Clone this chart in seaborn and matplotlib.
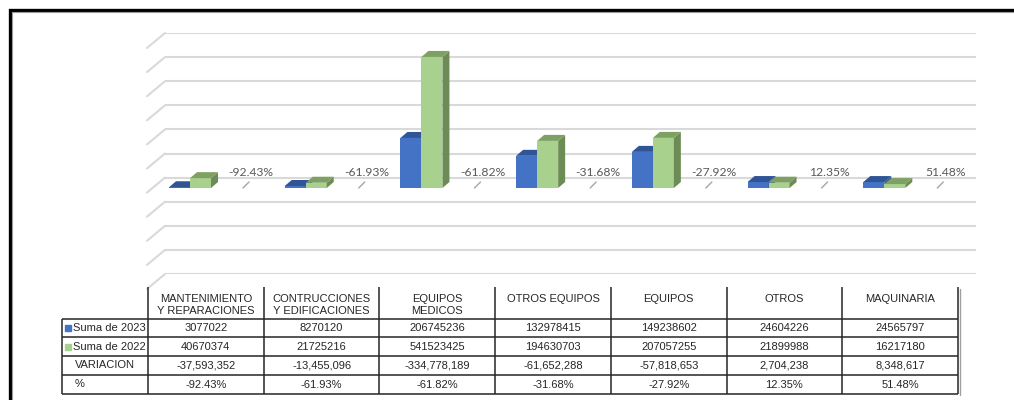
import matplotlib
matplotlib.use("Agg")
import numpy as np
import pandas as pd
import matplotlib.pyplot as plt
from matplotlib.patches import Polygon, Rectangle
import seaborn as sns

# Values
categorias = ["MANTENIMIENTO\nY REPARACIONES", "CONTRUCCIONES\nY EDIFICACIONES", "EQUIPOS\nMEDICOS",
              "OTROS EQUIPOS", "EQUIPOS", "OTROS", "MAQUINARIA"]
suma_2023 = [3077022, 8270120, 206745236, 132978415, 149238602, 24604226, 24565797]
suma_2022 = [40670374, 21725216, 541523425, 194630703, 207057255, 21899988, 16217180]
variacion = [-37593352, -13455096, -334778189, -61652288, -57818653, 2704238, 8348617]
porcentaje = [-92.43, -61.93, -61.82, -31.68, -27.92, 12.35, 51.48]
series = ["Suma de 2023", "Suma de 2022"]

# Colours (front, top, side)
BLUE = ("#4472C4", "#2F5597", "#2F5597")
GREEN = ("#A9D18E", "#7FA063", "#6D8B55")
GRID = "#D9D9D9"

W, H = 1014, 400
sns.set_theme(style="white")
plt.rcParams["font.family"] = ["Liberation Sans", "DejaVu Sans"]

fig = plt.figure(figsize=(W / 100, H / 100), dpi=100)


def px_axes(x0, y0, x1, y1, z):
    """Axes placed with pixel coordinates (top-left origin)."""
    ax = fig.add_axes([x0 / W, 1 - y1 / H, (x1 - x0) / W, (y1 - y0) / H], zorder=z)
    ax.axis("off")
    return ax


# Back wall with gridlines
wall = px_axes(165, 33, 976, 274, 0)
wall.set_ylim(-400e6, 600e6)
wall.set_xlim(0, 1)
grid_values = np.arange(-400e6, 600e6 + 1, 100e6)
for v in grid_values:
    wall.axhline(v, color=GRID, lw=1.5)

# Bars (front faces) through seaborn
ax = px_axes(148, 42.8, 958, 284.8, 1)
df = pd.DataFrame({
    "categoria": list(range(len(categorias))) * 2,
    "serie": [series[0]] * len(categorias) + [series[1]] * len(categorias),
    "valor": suma_2023 + suma_2022,
})
sns.barplot(data=df, x="categoria", y="valor", hue="serie", hue_order=series,
            palette=[BLUE[0], GREEN[0]], saturation=1, width=0.363, dodge=True,
            errorbar=None, legend=False, linewidth=0, ax=ax)
shift = 0.137
ax.set_xlim(-0.5 + shift, len(categorias) - 0.5 + shift)
ax.set_ylim(-400e6, 600e6)
ax.axis("off")

# pixel -> data unit sizes in the bar axes
p0 = ax.transData.transform((0, 0))
p1 = ax.transData.transform((1, 1e8))
px_x = p1[0] - p0[0]
px_y = (p1[1] - p0[1]) / 1e8
dx, dy = 7 / px_x, 6 / px_y

for level, (cont, cols) in enumerate(zip(ax.containers, [BLUE, GREEN])):
    for bar in cont:
        x0, w, h = bar.get_x(), bar.get_width(), bar.get_height()
        x1 = x0 + w
        z = 2 + level
        bar.set_zorder(z)
        top = Polygon([(x0, h), (x1, h), (x1 + dx, h + dy), (x0 + dx, h + dy)],
                      closed=True, facecolor=cols[1], edgecolor="none", zorder=z + 0.1)
        side = Polygon([(x1, 0), (x1 + dx, dy), (x1 + dx, h + dy), (x1, h)],
                       closed=True, facecolor=cols[2], edgecolor="none", zorder=z + 0.1)
        ax.add_patch(side)
        ax.add_patch(top)

# % series: flat marks and labels
for i, p in enumerate(porcentaje):
    xs = i + 53 / px_x
    ax.plot([xs, xs + 6 / px_x], [0, 6 / px_y], color="#A6A6A6", lw=1.0, zorder=5)
    ax.annotate(f"{p:.2f}%", xy=(i, 0), xytext=(61, 16), textcoords="offset pixels",
                ha="center", va="center", fontsize=8.7, color="#595959",
                family=["Lato", "DejaVu Sans"], zorder=6)

# Overlay in pixel space: depth lines, data table, frame
ov = fig.add_axes([0, 0, 1, 1], zorder=3)
ov.set_xlim(0, W)
ov.set_ylim(H, 0)
ov.axis("off")
ov.patch.set_alpha(0)

for v in grid_values:
    yd = wall.transData.transform((0, v))
    y = ov.transData.inverted().transform(yd)[1]
    ov.plot([147, 165], [y + 15, y], color=GRID, lw=1.5)

col_x = np.linspace(148, 958, len(categorias) + 1)
row_y = [319, 337, 356, 375, 394]
line_kw = dict(color="#262626", lw=1.1, solid_capstyle="butt")
for x in col_x:
    ov.plot([x, x], [287, row_y[-1]], **line_kw)
ov.plot([62, 62], [row_y[0], row_y[-1]], **line_kw)
for y in row_y:
    ov.plot([62, col_x[-1]], [y, y], **line_kw)
ov.plot([col_x[-1] + 1.5, col_x[-1] + 1.5], [289, row_y[-1] + 1], color="#A0A0A0", lw=1.0)

txt_kw = dict(fontsize=8, color="#262626")
for k, name in enumerate(categorias):
    ov.text((col_x[k] + col_x[k + 1]) / 2, 294.5, name, ha="center", va="top",
            linespacing=1.22, **txt_kw)

row_names = series + ["VARIACION", "%"]
row_values = [
    [str(v) for v in suma_2023],
    [str(v) for v in suma_2022],
    [f"{v:,}" for v in variacion],
    [f"{v:.2f}%" for v in porcentaje],
]
for r, (name, vals) in enumerate(zip(row_names, row_values)):
    yc = (row_y[r] + row_y[r + 1]) / 2
    if r < 2:
        ov.add_patch(Rectangle((65, yc - 3), 6, 6, color=[BLUE[0], GREEN[0]][r]))
        ov.text(73, yc, name, ha="left", va="center", **txt_kw)
    else:
        ov.text(75, yc - 0.5, name, ha="left", va="center", **txt_kw)
    for k, s in enumerate(vals):
        ov.text((col_x[k] + col_x[k + 1]) / 2, yc, s, ha="center", va="center", **txt_kw)

# chart frame
ov.plot([10, 10, W + 5], [H + 5, 10, 10], color="#000000", lw=2.4, solid_joinstyle="miter")
ov.plot([12, 12, W + 5], [H + 5, 12, 12], color="#9A9A9A", lw=0.8)

fig.savefig("out.png", dpi=100)
